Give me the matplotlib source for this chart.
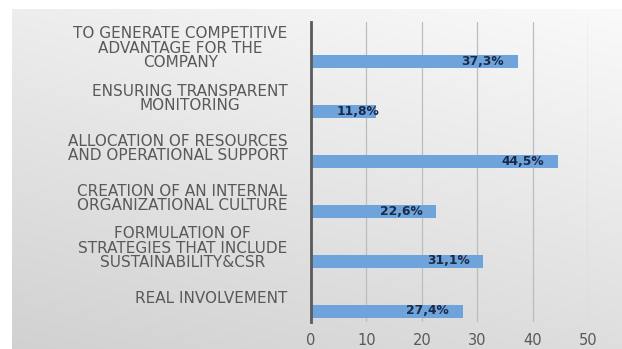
import numpy as np
import matplotlib
matplotlib.use("Agg")
import matplotlib.pyplot as plt

# Data
categories = [
    "TO GENERATE COMPETITIVE\nADVANTAGE FOR THE\nCOMPANY",
    "ENSURING TRANSPARENT\nMONITORING",
    "ALLOCATION OF RESOURCES\nAND OPERATIONAL SUPPORT",
    "CREATION OF AN INTERNAL\nORGANIZATIONAL CULTURE",
    "FORMULATION OF\nSTRATEGIES THAT INCLUDE\nSUSTAINABILITY&CSR",
    "REAL INVOLVEMENT",
]
values = [37.3, 11.8, 44.5, 22.6, 31.1, 27.4]
value_labels = ["37,3%", "11,8%", "44,5%", "22,6%", "31,1%", "27,4%"]
x_ticks = [0, 10, 20, 30, 40, 50]

TEXT_GRAY = "#595959"
BAR_BLUE = "#6fa3dc"
LABEL_NAVY = "#1b2a46"

plt.rcParams["font.family"] = ["DejaVu Sans"]

fig = plt.figure(figsize=(6.22, 3.49), dpi=100)
fig.patch.set_facecolor("white")

# Gradient panel behind the chart
bg = fig.add_axes([12 / 622, 0, 610 / 622, 340 / 349], zorder=0)
xx, yy = np.meshgrid(np.linspace(0, 1, 200), np.linspace(0, 1, 200))
shade = 0.82 + 0.11 * yy + 0.05 * xx
bg.imshow(np.dstack([shade, shade, shade]), origin="lower", aspect="auto",
          extent=[0, 1, 0, 1], interpolation="bilinear")
bg.set_axis_off()

ax = fig.add_axes([311 / 622, 1 - 322 / 349, 277 / 622, 300 / 349], zorder=1)
ax.patch.set_alpha(0)

pos = np.arange(len(categories))
bar_offset = 0.28
ax.barh(pos + bar_offset, values, height=0.26, color=BAR_BLUE, zorder=3)

# Value labels near the inner end of each bar
for p, v, lab in zip(pos, values, value_labels):
    anchor = max(v - 2.5, 12.3)
    ax.text(anchor, p + bar_offset, lab, ha="right", va="center",
            fontsize=8.8, fontweight="bold", color=LABEL_NAVY, zorder=4)

ax.set_xlim(0, 50)
ax.set_ylim(len(categories) - 0.5, -0.5)
ax.set_xticks(x_ticks)
ax.set_xticklabels([str(t) for t in x_ticks])
ax.set_yticks(pos)
ax.set_yticklabels(categories, multialignment="center", linespacing=0.95)

ax.grid(axis="x", color="#bdbdbd", linewidth=0.9, zorder=1)
ax.set_axisbelow(True)
for side in ["top", "right", "bottom"]:
    ax.spines[side].set_visible(False)
ax.spines["left"].set_color("#5a5a5a")
ax.spines["left"].set_linewidth(2.0)
ax.spines["left"].set_zorder(5)

ax.tick_params(axis="both", length=0, colors=TEXT_GRAY)
ax.tick_params(axis="y", pad=17, labelsize=11)
ax.tick_params(axis="x", pad=8, labelsize=10.5)

fig.savefig("out.png", dpi=100)
